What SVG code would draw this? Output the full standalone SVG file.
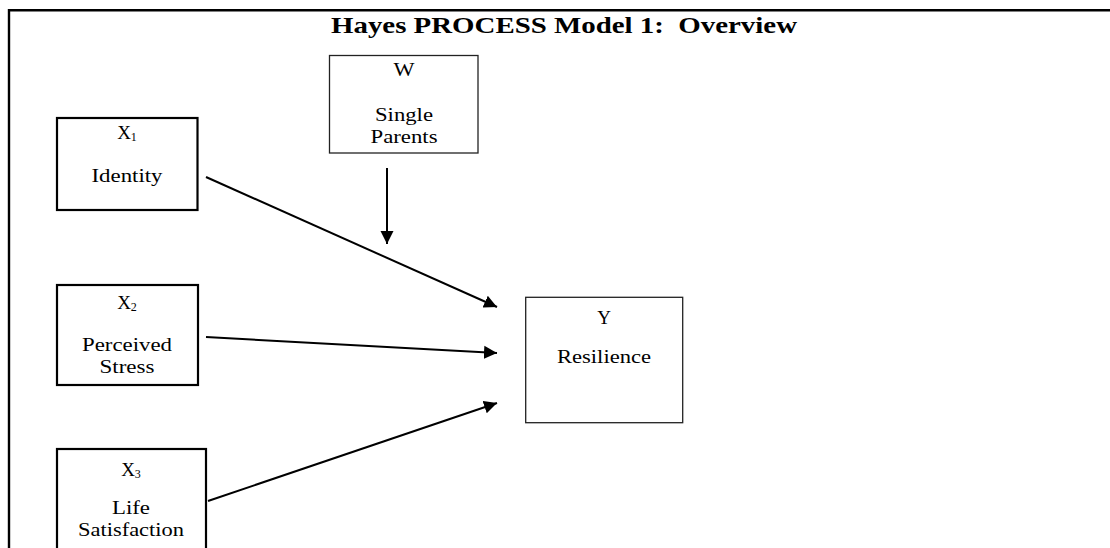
<svg xmlns="http://www.w3.org/2000/svg" width="1110" height="548" viewBox="0 0 1110 548">
  <style>
    text { font-family: "Liberation Serif", "Times New Roman", serif; fill: #000; text-anchor: middle; }
    .title { font-size: 24px; font-weight: bold; white-space: pre; }
    .lbl { font-size: 19px; }
    .sub { font-size: 12px; }
    .box-thick { fill: #fff; stroke: #000; stroke-width: 2.2; }
    .box-thin { fill: #fff; stroke: #222; stroke-width: 1.3; }
    .edge { stroke: #000; stroke-width: 2; fill: none; marker-end: url(#head); }
  </style>
  <defs>
    <marker id="head" viewBox="0 0 12 12" refX="12" refY="6" markerWidth="6.5" markerHeight="7" markerUnits="strokeWidth" orient="auto">
      <path d="M0,0 L12,6 L0,12 Z" fill="#000"/>
    </marker>
  </defs>
  <rect width="1110" height="548" fill="#fff"/>

  <!-- outer frame: top and left rules only -->
  <path d="M9,548 V10.2 H1110" fill="none" stroke="#000" stroke-width="2.4"/>

  <text class="title" x="564" y="33" xml:space="preserve" textLength="466" lengthAdjust="spacingAndGlyphs">Hayes PROCESS Model 1:  Overview</text>

  <g id="connectors">
    <line class="edge" x1="206" y1="177" x2="497" y2="307"/>
    <line class="edge" x1="206" y1="337" x2="497" y2="353"/>
    <line class="edge" x1="208" y1="501" x2="497" y2="403"/>
    <line class="edge" x1="387" y1="168" x2="387" y2="244"/>
  </g>

  <g id="node-w">
    <rect class="box-thin" x="329.5" y="55.5" width="148.5" height="97.5"/>
    <text class="lbl" x="404" y="76" textLength="21" lengthAdjust="spacingAndGlyphs">W</text>
    <text class="lbl" x="404" y="121" textLength="58" lengthAdjust="spacingAndGlyphs">Single</text>
    <text class="lbl" x="404" y="142.5" textLength="67" lengthAdjust="spacingAndGlyphs">Parents</text>
  </g>

  <g id="node-x1">
    <rect class="box-thick" x="57" y="118" width="140.5" height="92"/>
    <text class="lbl" x="127" y="139">X<tspan class="sub" dy="2">1</tspan></text>
    <text class="lbl" x="127" y="182" textLength="71" lengthAdjust="spacingAndGlyphs">Identity</text>
  </g>

  <g id="node-x2">
    <rect class="box-thick" x="57" y="285" width="141" height="100"/>
    <text class="lbl" x="127" y="309">X<tspan class="sub" dy="2">2</tspan></text>
    <text class="lbl" x="127" y="351" textLength="90" lengthAdjust="spacingAndGlyphs">Perceived</text>
    <text class="lbl" x="127" y="372.5" textLength="55" lengthAdjust="spacingAndGlyphs">Stress</text>
  </g>

  <g id="node-x3">
    <rect class="box-thick" x="57" y="449" width="149" height="120"/>
    <text class="lbl" x="131" y="476">X<tspan class="sub" dy="2">3</tspan></text>
    <text class="lbl" x="131" y="514" textLength="38" lengthAdjust="spacingAndGlyphs">Life</text>
    <text class="lbl" x="131" y="535.5" textLength="106" lengthAdjust="spacingAndGlyphs">Satisfaction</text>
  </g>

  <g id="node-y">
    <rect class="box-thin" x="525.7" y="297.3" width="157" height="125.4"/>
    <text class="lbl" x="604" y="324">Y</text>
    <text class="lbl" x="604" y="363" textLength="94" lengthAdjust="spacingAndGlyphs">Resilience</text>
  </g>
</svg>
